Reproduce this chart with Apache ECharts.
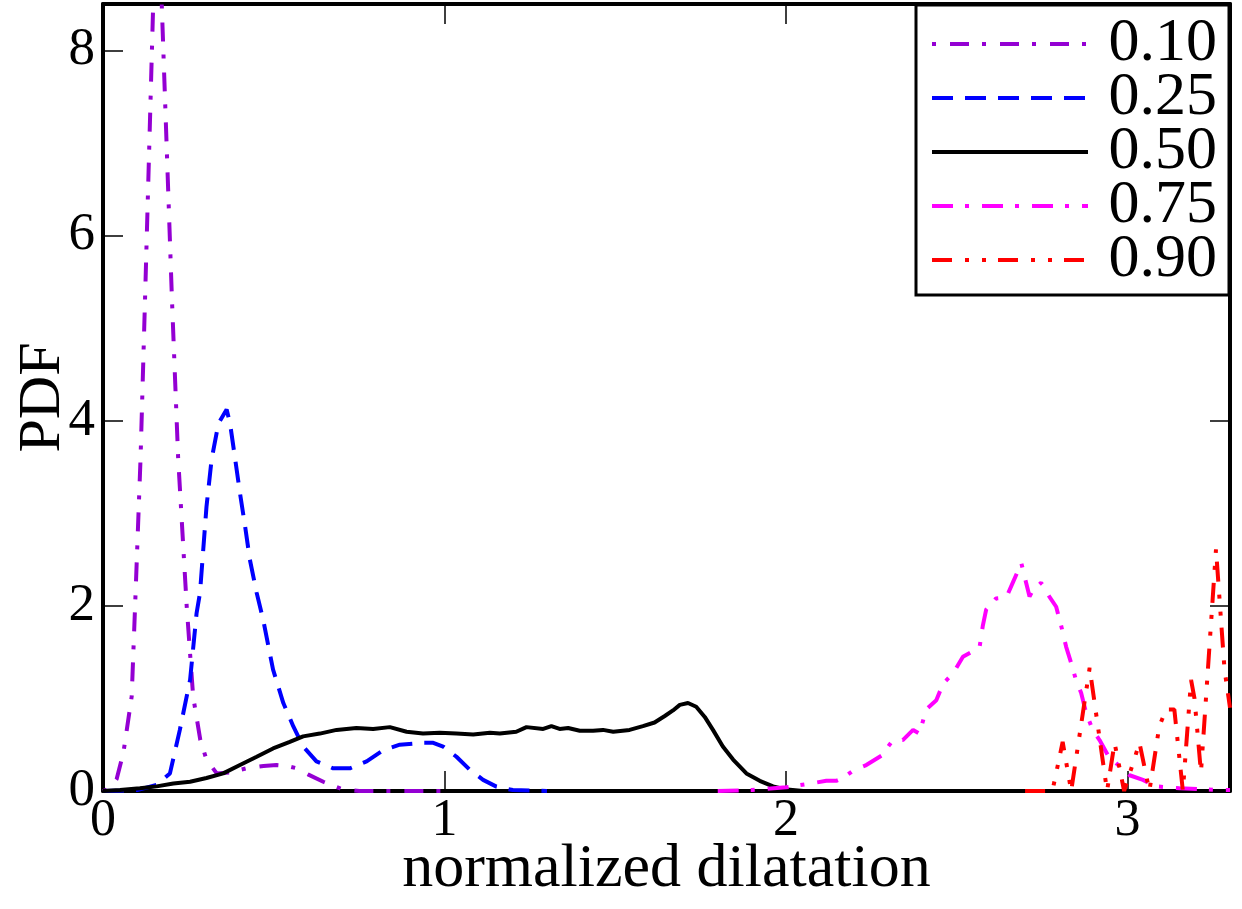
<!DOCTYPE html>
<html>
<head>
<meta charset="utf-8">
<script src="https://cdn.jsdelivr.net/npm/echarts@6/dist/echarts.min.js"></script>
<style>html,body{margin:0;padding:0;background:#fff}#c{width:1242px;height:909px}</style>
</head>
<body>
<div id="c"></div>
<script>
// ---- data ----
var seriesNames = ['0.10', '0.25', '0.50', '0.75', '0.90'];
var xTicks = [0, 1, 2, 3];
var yTicks = [0, 2, 4, 6, 8];

var x10 = [0, 0.02, 0.04, 0.06, 0.084, 0.094, 0.11, 0.123, 0.135, 0.147, 0.16, 0.172, 0.187, 0.202, 0.22, 0.245, 0.264, 0.285, 0.303, 0.333, 0.37, 0.42, 0.47, 0.508, 0.54, 0.567, 0.6, 0.645, 0.70, 0.75, 0.85, 1.0];
var y10 = [0, 0.03, 0.13, 0.42, 1.02, 2.0, 3.6, 5.3, 6.9, 8.5, 9.6, 8.5, 6.9, 5.3, 3.6, 2.0, 1.02, 0.55, 0.34, 0.19, 0.2, 0.245, 0.27, 0.28, 0.27, 0.245, 0.18, 0.1, 0.02, 0.0, 0.0, 0.0];

var x25 = [0, 0.1, 0.157, 0.196, 0.225, 0.255, 0.274, 0.284, 0.303, 0.318, 0.338, 0.362, 0.372, 0.386, 0.401, 0.416, 0.43, 0.45, 0.469, 0.498, 0.528, 0.557, 0.586, 0.625, 0.674, 0.723, 0.772, 0.82, 0.869, 0.937, 0.967, 0.996, 1.035, 1.074, 1.113, 1.152, 1.2, 1.3];
var y25 = [0, 0.01, 0.065, 0.19, 0.66, 1.2, 1.92, 2.14, 3.07, 3.58, 3.97, 4.12, 3.97, 3.61, 3.22, 2.86, 2.5, 2.14, 1.85, 1.31, 0.95, 0.70, 0.48, 0.32, 0.245, 0.245, 0.32, 0.44, 0.50, 0.52, 0.52, 0.48, 0.37, 0.23, 0.12, 0.047, 0.01, 0];

var x50 = [0, 0.05, 0.108, 0.157, 0.206, 0.255, 0.303, 0.352, 0.401, 0.45, 0.498, 0.547, 0.586, 0.635, 0.684, 0.742, 0.791, 0.84, 0.889, 0.937, 0.986, 1.035, 1.084, 1.133, 1.162, 1.21, 1.24, 1.289, 1.313, 1.337, 1.362, 1.396, 1.435, 1.464, 1.494, 1.542, 1.581, 1.615, 1.645, 1.669, 1.689, 1.713, 1.737, 1.762, 1.786, 1.815, 1.845, 1.884, 1.923, 1.962, 1.996, 2.05, 2.2];
var y50 = [0, 0.01, 0.03, 0.05, 0.08, 0.10, 0.14, 0.19, 0.28, 0.37, 0.46, 0.53, 0.59, 0.62, 0.66, 0.68, 0.67, 0.69, 0.64, 0.62, 0.63, 0.62, 0.61, 0.63, 0.62, 0.64, 0.69, 0.67, 0.70, 0.67, 0.68, 0.65, 0.65, 0.66, 0.64, 0.66, 0.70, 0.74, 0.81, 0.87, 0.93, 0.95, 0.91, 0.80, 0.66, 0.48, 0.34, 0.19, 0.11, 0.05, 0.02, 0, 0];

var x75 = [1.8, 1.9, 2.0, 2.07, 2.118, 2.147, 2.167, 2.2, 2.235, 2.279, 2.313, 2.342, 2.372, 2.391, 2.41, 2.44, 2.46, 2.489, 2.518, 2.547, 2.567, 2.576, 2.586, 2.615, 2.645, 2.664, 2.689, 2.703, 2.713, 2.723, 2.747, 2.771, 2.791, 2.806, 2.82, 2.835, 2.849, 2.864, 2.879, 2.898, 2.918, 2.942, 2.967, 3.006, 3.045, 3.084, 3.152, 3.27, 3.3];
var y75 = [0, 0.01, 0.04, 0.08, 0.11, 0.11, 0.14, 0.23, 0.28, 0.38, 0.55, 0.55, 0.66, 0.62, 0.88, 0.98, 1.16, 1.27, 1.45, 1.51, 1.56, 1.78, 1.96, 2.08, 2.09, 2.25, 2.46, 2.25, 2.10, 2.17, 2.25, 2.10, 1.99, 1.78, 1.56, 1.38, 1.20, 1.06, 0.84, 0.66, 0.55, 0.39, 0.30, 0.17, 0.12, 0.05, 0.03, 0.01, 0.01];

var x90 = [2.7, 2.78, 2.81, 2.835, 2.889, 2.94, 2.962, 2.99, 3.035, 3.064, 3.093, 3.113, 3.137, 3.162, 3.186, 3.196, 3.215, 3.259, 3.284, 3.3];
var y90 = [0, 0, 0.53, 0.0, 1.33, 0.0, 0.52, 0.0, 0.52, 0.0, 0.70, 0.88, 0.88, 0.0, 1.2, 1.0, 0.2, 2.61, 1.31, 0.9];

var colors = ['#9400d3', '#0000ff', '#000000', '#ff00ff', '#ff0000'];
var dashes = [[4, 14, 19, 13], [21, 12], 'solid', [21, 12, 4, 13], [20, 13, 4, 13, 4, 12]];
var xsAll = [x10, x25, x50, x75, x90];
var ysAll = [y10, y25, y50, y75, y90];

function pairs(xs, ys) { return xs.map(function (x, i) { return [x, ys[i]]; }); }

var FONT = 'Liberation Serif';
var series = seriesNames.map(function (n, i) {
  return {
    name: n, type: 'line', data: pairs(xsAll[i], ysAll[i]),
    symbol: 'none', showSymbol: false, smooth: false, clip: true,
    lineStyle: { color: colors[i], width: 4, type: dashes[i] },
    itemStyle: { color: colors[i] }
  };
});

function xAxisDef(pos, labels) {
  return {
    type: 'value', position: pos, min: 0, max: 3.3, interval: 1,
    name: labels ? 'normalized dilatation' : '', nameLocation: 'middle', nameGap: 79, nameMoveOverlap: false,
    nameTextStyle: { fontFamily: FONT, fontSize: 62, lineHeight: 40, color: '#000', verticalAlign: 'middle' },
    axisLine: { show: true, onZero: false, lineStyle: { color: '#000', width: 4 } },
    axisTick: { show: true, inside: true, length: 20, lineStyle: { color: '#000', width: 1.5 } },
    axisLabel: { show: labels, margin: 4, fontFamily: FONT, fontSize: 52, color: '#000', showMaxLabel: false,
      formatter: function (v) { return xTicks.indexOf(v) >= 0 ? String(v) : ''; } },
    splitLine: { show: false }
  };
}
function yAxisDef(pos, labels) {
  return {
    type: 'value', position: pos, min: 0, max: 8.5, interval: 2,
    name: labels ? 'PDF' : '', nameLocation: 'middle', nameGap: 30, nameRotate: 90, nameMoveOverlap: false,
    nameTextStyle: { fontFamily: FONT, fontSize: 60, color: '#000' },
    axisLine: { show: true, onZero: false, lineStyle: { color: '#000', width: 4 } },
    axisTick: { show: true, inside: true, length: 20, lineStyle: { color: '#000', width: 1.5 } },
    axisLabel: { show: labels, margin: 8, fontFamily: FONT, fontSize: 53, color: '#000', showMaxLabel: false,
      formatter: function (v) { return yTicks.indexOf(v) >= 0 ? String(v) : ''; } },
    splitLine: { show: false }
  };
}

var chart = echarts.init(document.getElementById('c'), null, { renderer: 'canvas' });
chart.setOption({
  animation: false,
  backgroundColor: '#fff',
  grid: { left: 103, right: 12, top: 4, bottom: 118, containLabel: false, outerBoundsMode: 'none' },
  xAxis: [xAxisDef('bottom', true), xAxisDef('top', false)],
  yAxis: [yAxisDef('left', true), yAxisDef('right', false)],
  legend: {
    orient: 'vertical', right: 13, top: 5,
    backgroundColor: '#fff', borderColor: '#000', borderWidth: 3, borderRadius: 0,
    padding: [8, 12, 4, 14],
    itemWidth: 156, itemHeight: 14, itemGap: -8,
    selectedMode: false,
    itemStyle: { color: 'rgba(0,0,0,0)', borderWidth: 0, opacity: 0 },
    lineStyle: { width: 4 },
    formatter: function (n) { return ' ' + n; },
    textStyle: { fontFamily: FONT, fontSize: 62, lineHeight: 54, color: '#000' },
    data: seriesNames
  },
  series: series
});
</script>
</body>
</html>
